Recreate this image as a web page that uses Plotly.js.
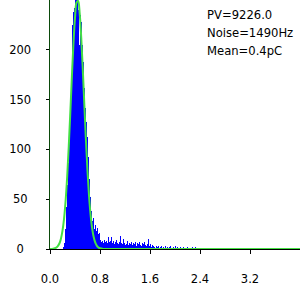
<!DOCTYPE html>
<html>
<head>
<meta charset="utf-8">
<script src="https://cdn.plot.ly/plotly-3.0.1.min.js"></script>
<style>html,body{margin:0;padding:0;background:#fff;}#chart{width:300px;height:300px;}</style>
</head>
<body>
<div id="chart"></div>
<script>
// Histogram counts, bin width 0.016 starting at 0.0
var binStart = 0.0;
var binWidth = 0.016;
var counts = [
  0,0,0,0,0,0,0,0,0,0,
  0,0,0,2,6,20,42,64,86,108,
  135,170,225,238,242,250,250,250,240,205,
  235,228,205,188,162,142,128,112,92,70,
  52,38,28,31,20,24,18,21,15,16,
  9,7,8,6,9,7,8,6,12,7,
  8,12,6,8,5,7,9,6,5,7,
  13,6,5,10,6,4,5,8,4,6,
  5,7,4,6,5,7,3,6,5,7,
  4,3,6,5,7,4,3,5,10,3,
  5,2,4,3,2,1,3,2,3,1,
  2,3,1,2,0,3,1,2,0,2,
  3,1,0,2,1,3,0,2,0,1,
  2,0,1,2,0,1,0,2,0,1,
  1,0,2,0,1,2,0,1,0,0,
  0,0,0,0,0,0,0,0,0,0,
  1,0,0,0,0,0,0,1,0,0,
  0,0,0,0,0,0,0,0,0,0,
  1,0,0,0,0,0,0,0,0,0,
  0,0,0,0,0,1,0,0,0,0,
  0,0,0,0,0,0,0,0,0,0,
  0,0,1,0,0,0,0,0,0,0,
  0,0,0,0,0,1,0,0,0,0,
  0,0,0,0,0,1,0,0,0,0,
  0,0,0,0,0,0,0,0,0,0
];
// Fitted curve
var fitX = [0,0.05,0.1,0.125,0.15,0.175,0.2,0.225,0.25,0.275,0.3,0.325,0.35,0.375,0.4,0.425,0.45,0.475,0.5,0.525,0.55,0.575,0.6,0.625,0.65,0.675,0.7,0.725,0.75,0.775,0.8,0.85,1.0,2.0,3.0,4.0];
var fitY = [0,0.2,1.3,2.8,5.5,10.4,18.4,30.6,48.7,72.8,102.8,137,173,206,232,247.5,249,236.5,212,180,144,109,78,53,34,20.5,11.7,6.3,3.2,1.5,0.7,0.1,0,0,0,0];
var xTickVals = [0,0.8,1.6,2.4,3.2];
var xTickText = ['0.0','0.8','1.6','2.4','3.2'];
var yTickVals = [0,50,100,150,200];
var yTickText = ['0\u2007','50\u2008','100','150','200'];
var infoLines = ['PV=9226.0','Noise=1490Hz','Mean=0.4pC'];

var traces = [
  {type:'bar', x0: binStart + binWidth/2, dx: binWidth, y: counts,
   marker:{color:'#0000ff', line:{width:0}}, hoverinfo:'skip'},
  {type:'scatter', mode:'lines', x: fitX, y: fitY,
   line:{color:'#44e044', width:2, shape:'spline'}, hoverinfo:'skip'}
];
var infoY = [0.94, 0.867, 0.795];
var annotations = infoLines.map(function(t, i){
  return {text:t, xref:'paper', yref:'paper', x:0.62, y:infoY[i], xanchor:'left', yanchor:'middle',
          showarrow:false, font:{family:'DejaVu Sans', size:11.6, color:'#000'}};
});
var layout = {
  width:300, height:300,
  margin:{l:50, r:0, t:0, b:51, pad:0},
  paper_bgcolor:'#fff', plot_bgcolor:'#fff',
  showlegend:false, bargap:0,
  font:{family:'DejaVu Sans', size:11.5, color:'#000'},
  xaxis:{range:[0,4], tickmode:'array', tickvals:xTickVals, ticktext:xTickText,
         showgrid:false, zeroline:false, showline:true, linecolor:'#000', linewidth:1,
         ticks:'outside', ticklen:4, tickcolor:'#000', ticklabelstandoff:15, fixedrange:true},
  yaxis:{range:[0,250], tickmode:'array', tickvals:yTickVals, ticktext:yTickText,
         showgrid:false, zeroline:false, showline:true, linecolor:'#0b4a0b', linewidth:1.5,
         ticks:'outside', ticklen:3, tickcolor:'#000', ticklabelstandoff:12, fixedrange:true},
  annotations: annotations
};
Plotly.newPlot('chart', traces, layout, {displayModeBar:false, staticPlot:true});
</script>
</body>
</html>
